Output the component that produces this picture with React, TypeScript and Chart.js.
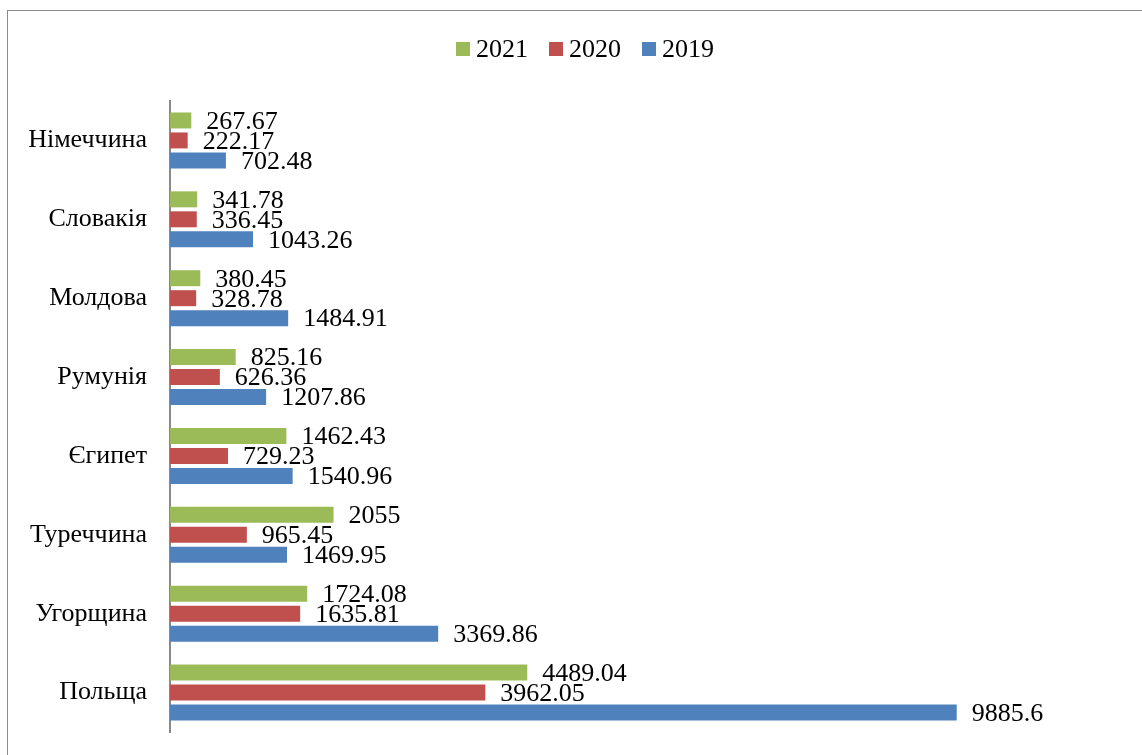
import React, { useEffect, useRef } from "react";
import { Chart, registerables } from "chart.js";

Chart.register(...registerables);

const categories = ["Німеччина", "Словакія", "Молдова", "Румунія", "Єгипет", "Туреччина", "Угорщина", "Польща"];
const seriesLabels = ["2021", "2020", "2019"];
const values2021 = [267.67, 341.78, 380.45, 825.16, 1462.43, 2055, 1724.08, 4489.04];
const values2020 = [222.17, 336.45, 328.78, 626.36, 729.23, 965.45, 1635.81, 3962.05];
const values2019 = [702.48, 1043.26, 1484.91, 1207.86, 1540.96, 1469.95, 3369.86, 9885.6];
const seriesColors = ["#9BBB59", "#C0504D", "#4F81BD"];

const FONT = '"Liberation Serif", "Times New Roman", serif';

const dataLabelPlugin = {
  id: "dataLabels",
  afterDatasetsDraw(chart: any) {
    const ctx = chart.ctx;
    ctx.save();
    ctx.font = `26px ${FONT}`;
    ctx.fillStyle = "#000";
    ctx.textAlign = "left";
    ctx.textBaseline = "middle";
    chart.data.datasets.forEach((ds: any, i: number) => {
      const meta = chart.getDatasetMeta(i);
      meta.data.forEach((el: any, j: number) => {
        ctx.fillText(String(ds.data[j]), el.x + 15, el.y + 1.5);
      });
    });
    ctx.restore();
  },
};

const legendPlugin = {
  id: "customLegend",
  afterDraw(chart: any) {
    const ctx = chart.ctx;
    ctx.save();
    ctx.font = `26px ${FONT}`;
    ctx.textBaseline = "middle";
    ctx.textAlign = "left";
    const box = 14;
    const gapBox = 6;
    const gapItem = 21;
    const widths = seriesLabels.map((t) => ctx.measureText(t).width);
    let total = 0;
    widths.forEach((w, i) => {
      total += box + gapBox + w + (i < widths.length - 1 ? gapItem : 0);
    });
    const centerX = 585;
    const cy = 49;
    let x = centerX - total / 2;
    seriesLabels.forEach((t, i) => {
      ctx.fillStyle = seriesColors[i];
      ctx.fillRect(x, cy - box / 2, box, box);
      x += box + gapBox;
      ctx.fillStyle = "#000";
      ctx.fillText(t, x, cy + 1);
      x += widths[i] + gapItem;
    });
    ctx.restore();
  },
};

export default function App() {
  const canvasRef = useRef<HTMLCanvasElement | null>(null);

  useEffect(() => {
    const canvas = canvasRef.current;
    if (!canvas) return;
    const seriesValues = [values2021, values2020, values2019];
    const chart = new Chart(canvas, {
      type: "bar",
      data: {
        labels: categories,
        datasets: seriesLabels.map((label, i) => ({
          label,
          data: seriesValues[i],
          backgroundColor: seriesColors[i],
          borderWidth: 0,
          categoryPercentage: 0.76,
          barPercentage: 0.8,
        })),
      },
      options: {
        indexAxis: "y",
        responsive: false,
        animation: false,
        devicePixelRatio: 1,
        layout: { autoPadding: false, padding: { top: 101, bottom: 23, left: 0, right: 17 } },
        plugins: {
          legend: { display: false },
          tooltip: { enabled: false },
        },
        scales: {
          x: {
            display: false,
            min: 0,
            max: 12000,
          },
          y: {
            grid: { display: false, drawTicks: false },
            border: { display: true, color: "#898989", width: 2 },
            ticks: {
              color: "#000",
              padding: 23,
              font: { family: FONT, size: 26 },
            },
            afterFit(scale: any) {
              scale.width = 170;
              scale.paddingTop = 0;
              scale.paddingBottom = 0;
            },
          },
        },
      },
      plugins: [dataLabelPlugin, legendPlugin],
    });
    return () => chart.destroy();
  }, []);

  return (
    <div>
      <div
        style={{
          position: "fixed",
          left: 7,
          top: 10,
          width: 1160,
          height: 800,
          border: "1px solid #8c8c8c",
          boxSizing: "border-box",
          background: "#fff",
        }}
      />
      <canvas
        ref={canvasRef}
        width={1142}
        height={755}
        style={{ position: "fixed", left: 0, top: 0, width: 1142, height: 755, display: "block" }}
      />
    </div>
  );
}
